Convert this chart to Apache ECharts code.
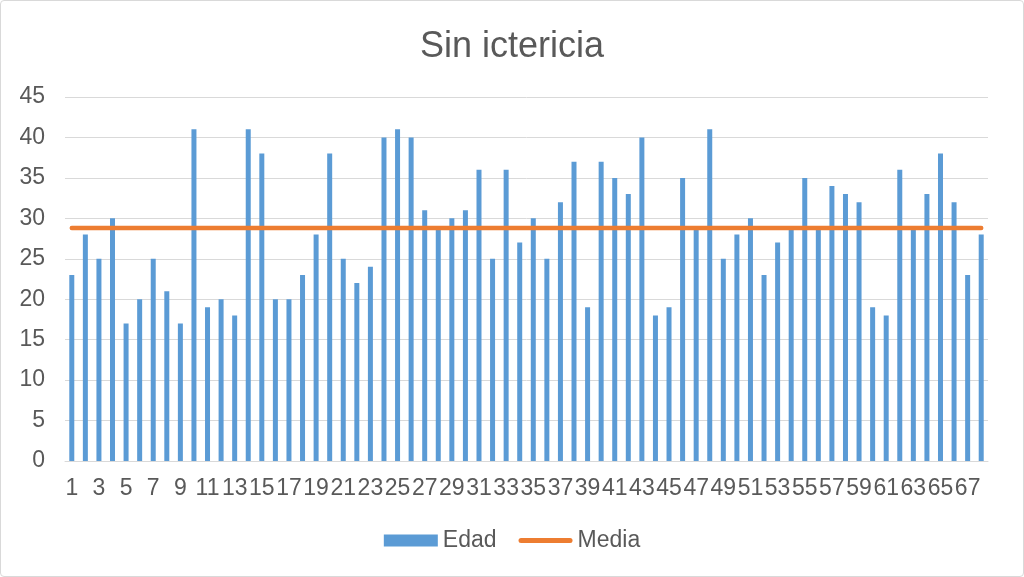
<!DOCTYPE html>
<html>
<head>
<meta charset="utf-8">
<script src="https://cdn.jsdelivr.net/npm/echarts@6/dist/echarts.min.js"></script>
<style>
html,body{margin:0;padding:0;background:#fff;}
#wrap{position:absolute;left:0;top:0;width:1022px;height:575px;border:1px solid #d9d9d9;border-radius:4px;}
#chart{width:1024px;height:577px;position:absolute;left:-1px;top:-1px;}
</style>
</head>
<body>
<div id="wrap"><div id="chart"></div></div>
<script>
const titleText = 'Sin ictericia';
const categories = [];
for (let i = 1; i <= 68; i++) categories.push(String(i));
const edad = [23,28,25,30,17,20,25,21,17,41,
              19,20,18,41,38,20,20,23,28,38,
              25,22,24,40,41,40,31,29,30,31,
              36,25,36,27,30,25,32,37,19,37,
              35,33,40,18,19,35,29,41,25,28,
              30,23,27,29,35,29,34,33,32,19,
              18,36,29,33,38,32,23,28];
const mediaValue = 28.82;
const media = categories.map(() => mediaValue);

const textColor = '#595959';
const font = 'Liberation Sans, Arial, sans-serif';
const chart = echarts.init(document.getElementById('chart'));
chart.setOption({
  animation: false,
  backgroundColor: 'transparent',
  title: {
    text: titleText, left: 'center', top: 24,
    textStyle: {color: textColor, fontSize: 36, fontWeight: 'normal', fontFamily: font}
  },
  legend: {
    bottom: 20, left: 'center', itemGap: 22, itemWidth: 54, itemHeight: 12,
    textStyle: {color: textColor, fontSize: 23, fontFamily: font},
    data: [
      {name: 'Edad', icon: 'rect'},
      {name: 'Media', icon: 'path://M2.5,0 L51.5,0 A2.5,2.5 0 0 1 51.5,5 L2.5,5 A2.5,2.5 0 0 1 2.5,0 Z',
       itemStyle: {color: '#ED7D31'}}
    ]
  },
  grid: {left: 65, right: 36, top: 97, bottom: 116, containLabel: false},
  xAxis: {
    type: 'category', data: categories,
    axisLine: {lineStyle: {color: '#d9d9d9', width: 1}},
    axisTick: {show: false},
    axisLabel: {interval: 1, color: textColor, fontSize: 23, fontFamily: font, margin: 16}
  },
  yAxis: {
    type: 'value', min: 0, max: 45, interval: 5,
    axisLine: {show: false}, axisTick: {show: false},
    axisLabel: {color: textColor, fontSize: 23, fontFamily: font, margin: 20},
    splitLine: {lineStyle: {color: '#d9d9d9', width: 1}}
  },
  series: [
    {name: 'Edad', type: 'bar', data: edad, barWidth: 5,
     itemStyle: {color: '#5B9BD5'}},
    {name: 'Media', type: 'line', data: media, symbol: 'none', showSymbol: false,
     z: 5, lineStyle: {color: '#ED7D31', width: 4.5, cap: 'round'},
     itemStyle: {color: '#ED7D31'}}
  ]
});
</script>
</body>
</html>
